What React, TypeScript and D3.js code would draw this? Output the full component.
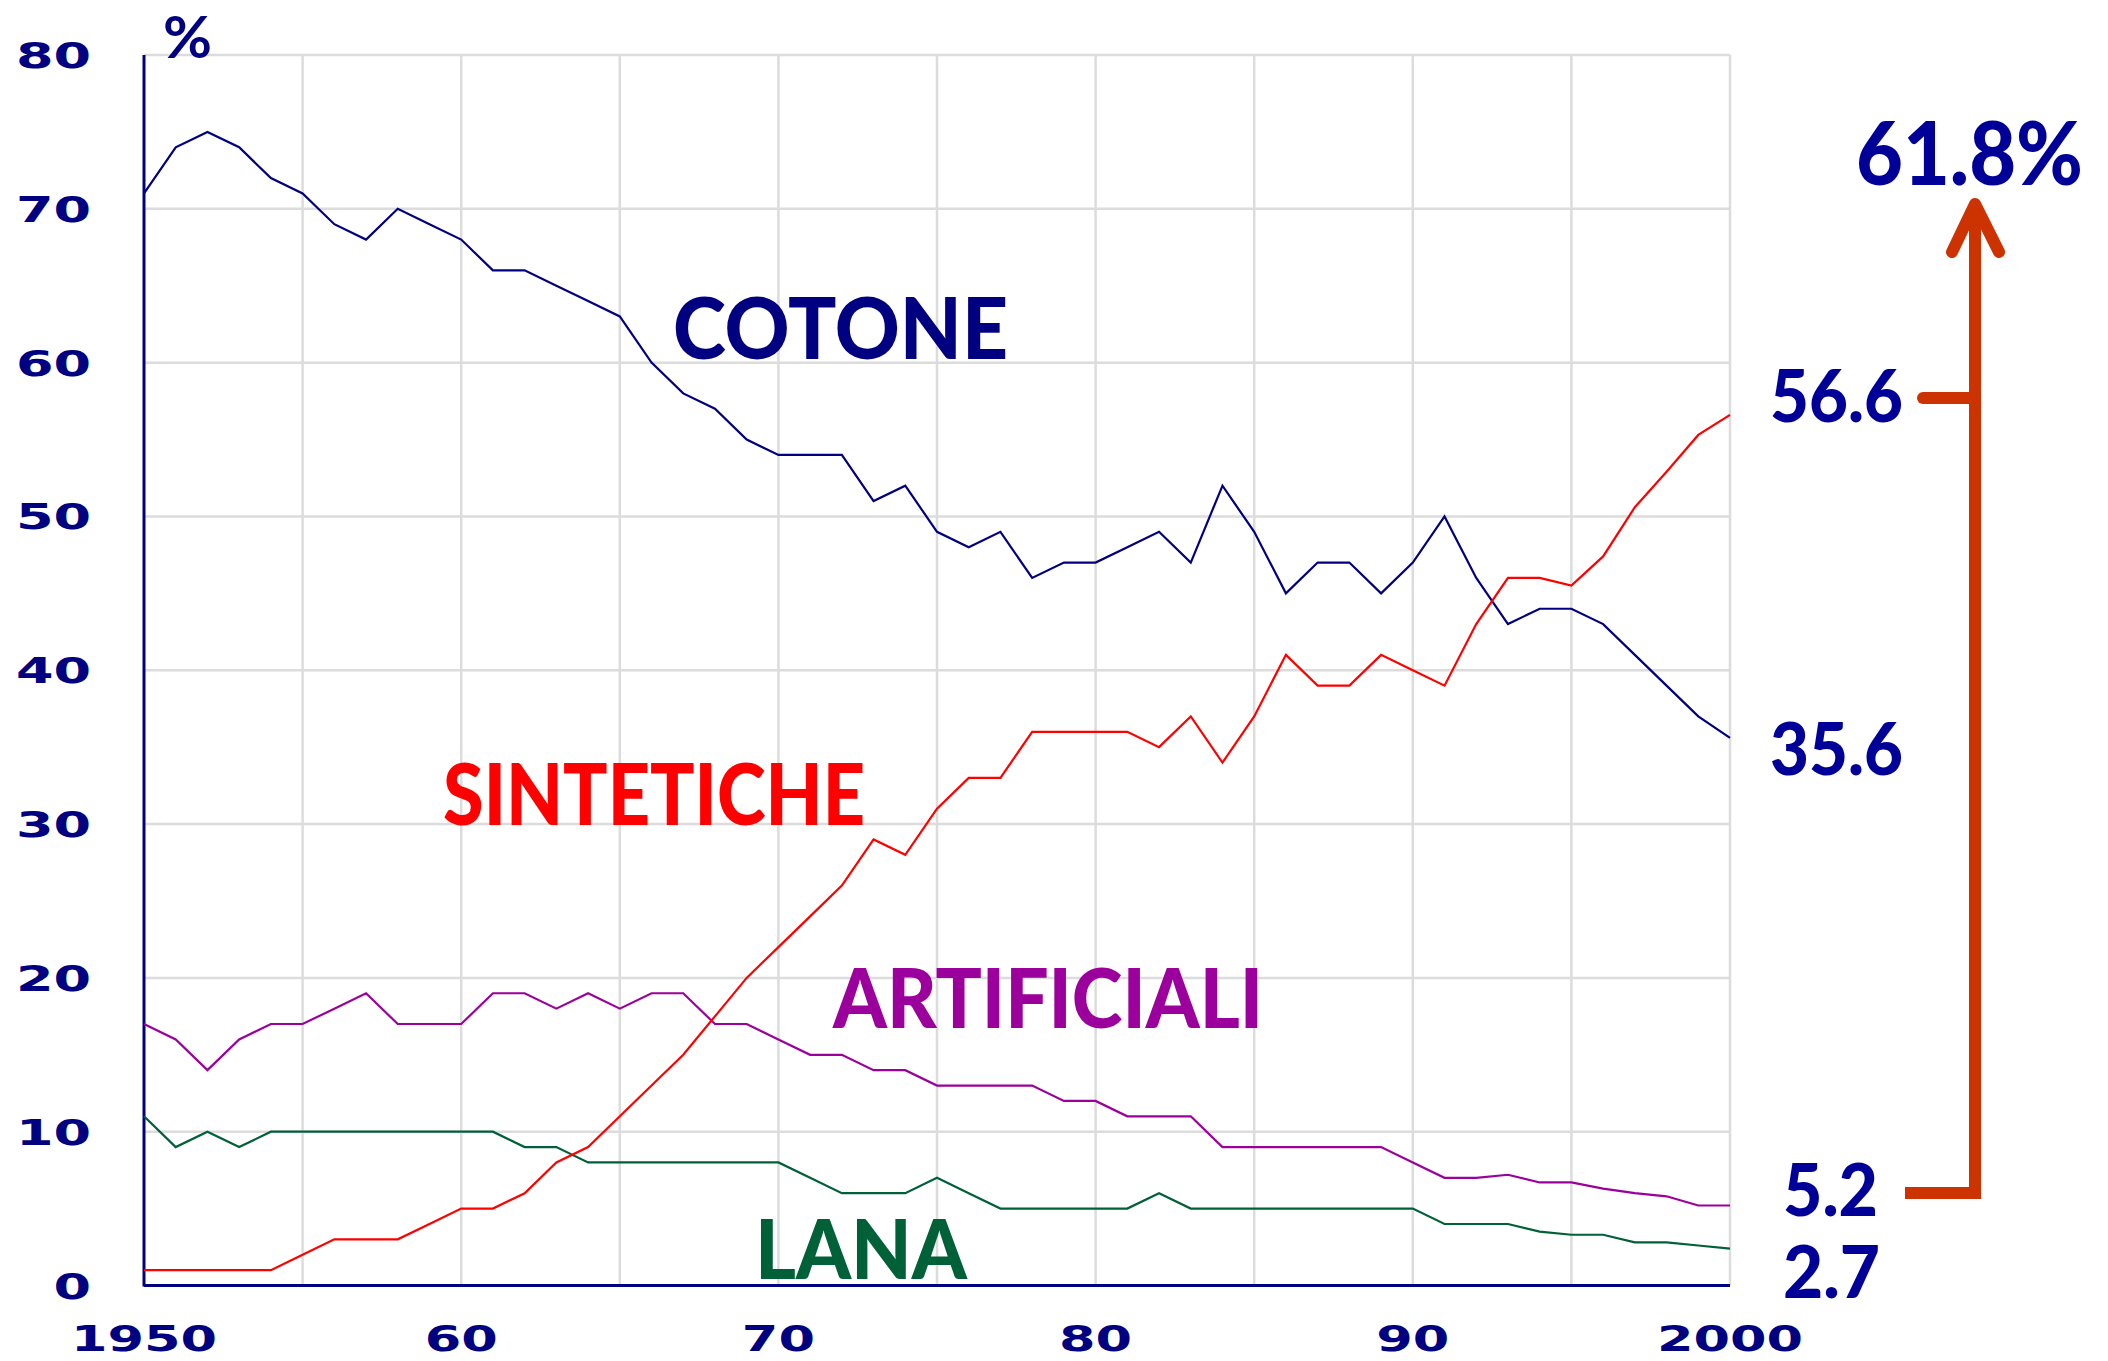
import React from "react";
import * as d3 from "d3";

const firstYear = 1950;
const lastYear = 2000;
const yTicks = [0, 10, 20, 30, 40, 50, 60, 70, 80];
const xLabelYears = [1950, 1960, 1970, 1980, 1990, 2000];
const xLabelTexts = ["1950", "60", "70", "80", "90", "2000"];
const gridYears = [1955, 1960, 1965, 1970, 1975, 1980, 1985, 1990, 1995, 2000];

const cotone = [
  71, 74, 75, 74, 72, 71, 69, 68, 70, 69,
  68, 66, 66, 65, 64, 63, 60, 58, 57, 55,
  54, 54, 54, 51, 52, 49, 48, 49, 46, 47,
  47, 48, 49, 47, 52, 49, 45, 47, 47, 45,
  47, 50, 46, 43, 44, 44, 43, 41, 39, 37,
  35.6,
];
const sintetiche = [
  1, 1, 1, 1, 1, 2, 3, 3, 3, 4,
  5, 5, 6, 8, 9, 11, 13, 15, 17.5, 20,
  22, 24, 26, 29, 28, 31, 33, 33, 36, 36,
  36, 36, 35, 37, 34, 37, 41, 39, 39, 41,
  40, 39, 43, 46, 46, 45.5, 47.4, 50.6, 52.9, 55.3,
  56.6,
];
const artificiali = [
  17, 16, 14, 16, 17, 17, 18, 19, 17, 17,
  17, 19, 19, 18, 19, 18, 19, 19, 17, 17,
  16, 15, 15, 14, 14, 13, 13, 13, 13, 12,
  12, 11, 11, 11, 9, 9, 9, 9, 9, 9,
  8, 7, 7, 7.2, 6.7, 6.7, 6.3, 6.0, 5.8, 5.2,
  5.2,
];
const lana = [
  11, 9, 10, 9, 10, 10, 10, 10, 10, 10,
  10, 10, 9, 9, 8, 8, 8, 8, 8, 8,
  8, 7, 6, 6, 6, 7, 6, 5, 5, 5,
  5, 5, 6, 5, 5, 5, 5, 5, 5, 5,
  5, 4, 4, 4, 3.5, 3.3, 3.3, 2.8, 2.8, 2.6,
  2.4,
];

const NAVY = "#000080";
const NUM = "#000099";
const RED = "#FF0000";
const PURPLE = "#9C009C";
const GREEN = "#006138";
const ARROW = "#CC3300";
const GRID = "#DCDCDC";

export default function App() {
  const W = 2108;
  const H = 1361;
  const x = d3.scaleLinear().domain([firstYear, lastYear]).range([144, 1730]);
  const y = d3.scaleLinear().domain([0, 80]).range([1285.5, 55]);

  const mk = (vals: number[]) =>
    d3
      .line<number>()
      .x((_, i) => x(firstYear + i))
      .y((v) => y(v))(vals) || "";

  const series = [
    { vals: cotone, color: NAVY },
    { vals: artificiali, color: PURPLE },
    { vals: lana, color: GREEN },
    { vals: sintetiche, color: RED },
  ];

  const tickFont = "'DejaVu Sans', sans-serif";
  const bigFont = "Lato, 'Open Sans', sans-serif";

  return (
    <svg
      width={W}
      height={H}
      viewBox={`0 0 ${W} ${H}`}
      style={{ position: "absolute", left: 0, top: 0, background: "#fff" }}
    >
      <rect x={0} y={0} width={W} height={H} fill="#fff" />
      {/* grid */}
      {yTicks
        .filter((t) => t > 0)
        .map((t) => (
          <line
            key={"h" + t}
            x1={x(firstYear)}
            x2={x(lastYear)}
            y1={y(t)}
            y2={y(t)}
            stroke={GRID}
            strokeWidth={2.5}
          />
        ))}
      {gridYears.map((yr) => (
        <line
          key={"v" + yr}
          x1={x(yr)}
          x2={x(yr)}
          y1={y(80)}
          y2={y(0)}
          stroke={GRID}
          strokeWidth={2.5}
        />
      ))}
      {/* axes */}
      <line x1={x(firstYear)} x2={x(firstYear)} y1={y(80)} y2={y(0) + 1} stroke={NAVY} strokeWidth={3} />
      <line x1={x(firstYear)} x2={x(lastYear)} y1={y(0)} y2={y(0)} stroke={NAVY} strokeWidth={3} />

      {/* y tick labels */}
      {yTicks.map((t) => (
        <text
          key={"yl" + t}
          transform={`translate(91,${y(t) + 13}) scale(1.5,1)`}
          textAnchor="end"
          fontFamily={tickFont}
          fontWeight="bold"
          fontSize={36}
          fill={NAVY}
        >
          {t}
        </text>
      ))}
      {/* x tick labels */}
      {xLabelYears.map((yr, i) => (
        <text
          key={"xl" + yr}
          transform={`translate(${x(yr)},1351) scale(1.5,1)`}
          textAnchor="middle"
          fontFamily={tickFont}
          fontWeight="bold"
          fontSize={35}
          fill={NAVY}
        >
          {xLabelTexts[i]}
        </text>
      ))}
      <text
        x={163}
        y={58}
        fontFamily={bigFont}
        fontWeight="bold"
        fontSize={58}
        fill={NAVY}
        textLength={49}
        lengthAdjust="spacingAndGlyphs"
      >
        %
      </text>

      {/* series */}
      {series.map((s, i) => (
        <path
          key={"s" + i}
          d={mk(s.vals)}
          fill="none"
          stroke={s.color}
          strokeWidth={2.2}
          strokeLinejoin="miter"
        />
      ))}

      {/* series labels */}
      <text x={673} y={359} fontFamily={bigFont} fontWeight={900} fontSize={86} fill={NAVY}
        textLength={335} lengthAdjust="spacingAndGlyphs">COTONE</text>
      <text x={443} y={825} fontFamily={bigFont} fontWeight={900} fontSize={86} fill={RED}
        textLength={422} lengthAdjust="spacingAndGlyphs">SINTETICHE</text>
      <text x={833} y={1028} fontFamily={bigFont} fontWeight={900} fontSize={81} fill={PURPLE}
        textLength={430} lengthAdjust="spacingAndGlyphs">ARTIFICIALI</text>
      <text x={755} y={1279} fontFamily={bigFont} fontWeight={900} fontSize={82} fill={GREEN}
        textLength={212} lengthAdjust="spacingAndGlyphs">LANA</text>

      {/* end value labels */}
      <text x={1770} y={422} fontFamily={bigFont} fontWeight={900} fontSize={72} fill={NUM}
        textLength={133} lengthAdjust="spacingAndGlyphs">56.6</text>
      <text x={1770} y={775} fontFamily={bigFont} fontWeight={900} fontSize={72} fill={NUM}
        textLength={133} lengthAdjust="spacingAndGlyphs">35.6</text>
      <text x={1783} y={1216} fontFamily={bigFont} fontWeight={900} fontSize={72} fill={NUM}
        textLength={95} lengthAdjust="spacingAndGlyphs">5.2</text>
      <text x={1783} y={1298} fontFamily={bigFont} fontWeight={900} fontSize={72} fill={NUM}
        textLength={97} lengthAdjust="spacingAndGlyphs">2.7</text>
      <text x={1856} y={185} fontFamily={bigFont} fontWeight={900} fontSize={88} fill={NUM}
        textLength={227} lengthAdjust="spacingAndGlyphs">61.8%</text>

      {/* arrow */}
      <path d="M1905,1193 H1975 V215" fill="none" stroke={ARROW} strokeWidth={12} strokeLinejoin="miter" />
      <path d="M1923,398 H1975" fill="none" stroke={ARROW} strokeWidth={12} strokeLinecap="round" />
      <path d="M1952,252 L1975,204 L1999,252" fill="none" stroke={ARROW} strokeWidth={12}
        strokeLinecap="round" strokeLinejoin="round" />
    </svg>
  );
}
